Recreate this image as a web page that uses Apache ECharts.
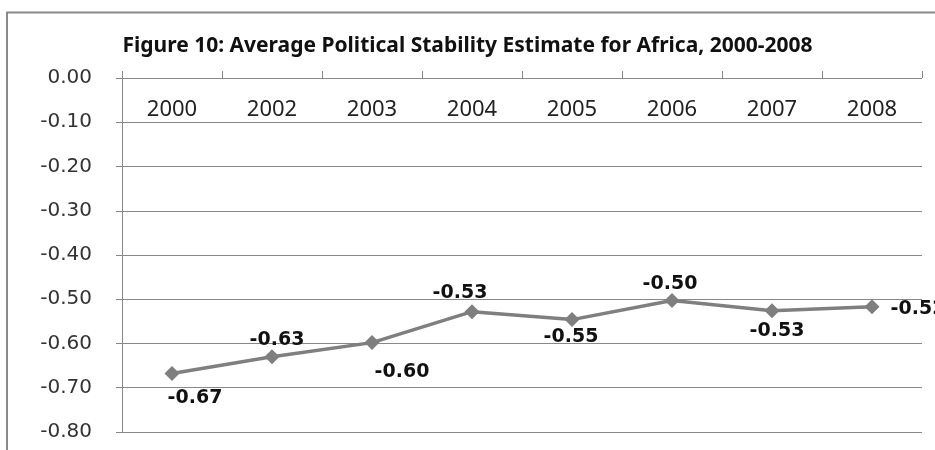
<!DOCTYPE html>
<html>
<head>
<meta charset="utf-8">
<script src="https://cdn.jsdelivr.net/npm/echarts@6/dist/echarts.min.js"></script>
<style>
  html, body { margin: 0; padding: 0; background: #fff; }
  #main { width: 935px; height: 450px; }
</style>
</head>
<body>
<div id="main"></div>
<script>
// data
var years = ['2000', '2002', '2003', '2004', '2005', '2006', '2007', '2008'];
var stability = [-0.668, -0.630, -0.598, -0.528, -0.546, -0.503, -0.526, -0.517];

// where each data label sits relative to its marker (dx, dy)
var labelOffsets = [[23, 24], [5, -17], [30, 29], [-12, -19], [-1, 17], [-2, -17], [5, 20], [46, 2]];

var chart = echarts.init(document.getElementById('main'));

var points = stability.map(function (v, i) {
  return {
    value: v,
    label: { offset: labelOffsets[i] }
  };
});

chart.setOption({
  animation: false,
  title: {
    text: 'Figure 10: Average Political Stability Estimate for Africa, 2000-2008',
    left: 'center',
    top: 31,
    textStyle: {
      fontFamily: 'Noto Sans',
      fontWeight: 'bold',
      fontSize: 21,
      color: '#111'
    }
  },
  graphic: [{
    type: 'polyline',
    shape: { points: [[7, 450], [7, 12.5], [935, 12.5]] },
    style: { stroke: '#8a8a8a', lineWidth: 2, fill: null }
  }],
  grid: { left: 122, right: 13, top: 78, bottom: 18 },
  xAxis: {
    type: 'category',
    data: years,
    position: 'top',
    axisLine: { show: false },
    axisTick: { show: true, inside: false, length: 7, lineStyle: { color: '#888' } },
    axisLabel: {
      inside: true,
      margin: 21,
      fontFamily: 'Noto Sans',
      fontSize: 22,
      color: '#222'
    },
    splitLine: { show: false }
  },
  yAxis: {
    type: 'value',
    min: -0.8,
    max: 0,
    interval: 0.1,
    axisLine: { show: true, lineStyle: { color: '#888', width: 1 } },
    axisTick: { show: true, length: 6, lineStyle: { color: '#888' } },
    axisLabel: {
      margin: 30,
      fontFamily: 'DejaVu Sans',
      fontSize: 20,
      color: '#333',
      formatter: function (v) { return v.toFixed(2); }
    },
    splitLine: { show: true, lineStyle: { color: '#888', width: 1 } }
  },
  series: [{
    type: 'line',
    data: points,
    symbol: 'diamond',
    symbolSize: 15,
    lineStyle: { color: '#7f7f7f', width: 3.5 },
    itemStyle: { color: '#7f7f7f' },
    label: {
      show: true,
      position: 'inside',
      align: 'center',
      verticalAlign: 'middle',
      fontFamily: 'DejaVu Sans',
      fontWeight: 'bold',
      fontSize: 19,
      color: '#111',
      formatter: function (p) { return p.value.toFixed(2); }
    }
  }]
});
</script>
</body>
</html>
